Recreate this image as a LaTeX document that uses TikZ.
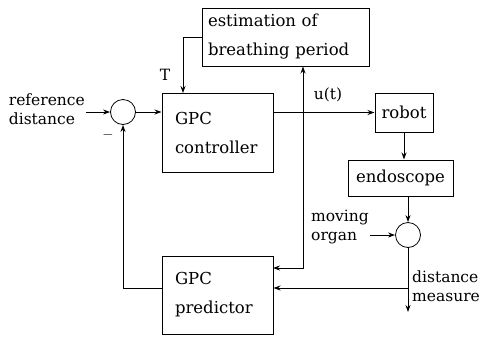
\documentclass[tikz,border=0pt]{standalone}
\usepackage{fontspec}
\setmainfont{DejaVu Serif}
\usetikzlibrary{arrows.meta}
\begin{document}
\begin{tikzpicture}[x=1pt,y=-1pt,
    blk/.style={draw, line width=1pt, inner sep=0pt, align=left, font=\fontsize{16.5}{29}\selectfont},
    sumc/.style={draw, circle, line width=0.8pt, minimum size=25pt, inner sep=0pt},
    lbl/.style={inner sep=1pt, align=left, font=\fontsize{15.5}{19}\selectfont},
    sig/.style={-{Stealth[length=7pt,width=5pt]}, line width=1pt}]
    \useasboundingbox (0,0) rectangle (486,338);

    % blocks
    \node[blk, minimum width=167pt, minimum height=58pt, text width=155pt] (est) at (285.5,37) {estimation of\\breathing period};
    \node[blk, minimum width=111pt, minimum height=79pt, text width=85pt] (ctrl) at (217.5,132.5) {GPC\\controller};
    \node[blk, minimum width=111pt, minimum height=78pt, text width=85pt] (pred) at (217.5,295) {GPC\\predictor};
    \node[blk, minimum width=58pt, minimum height=39pt, align=center] (robot) at (404,112.5) {robot};
    \node[blk, minimum width=105pt, minimum height=36pt, align=center] (endo) at (400.5,178) {endoscope};
    \node[sumc] (sum1) at (123,112) {};
    \node[sumc] (sum2) at (408,235) {};

    % labels
    \node[lbl, anchor=east] (ref) at (86,109) {reference\\distance};
    \node[lbl, anchor=west] (org) at (310,227) {moving\\organ};
    \node[lbl, anchor=west] (meas) at (411,286) {distance\\measure};
    \node[lbl] (tlab) at (165,75) {T};
    \node[lbl] (ulab) at (328,95) {u(t)};
    \node[lbl] (minus) at (108,135) {$-$};

    \coordinate (tin) at (183,93);
    \coordinate (br) at (303,113);
    \coordinate (pin) at (273,268);
    \coordinate (mbr) at (408,288);
    \coordinate (mout) at (408,312);

    % signals
    \draw[sig] (ref.east |- sum1.west) -- (sum1.west);
    \draw[sig] (sum1.east) -- (sum1.east -| ctrl.west);
    \draw[sig] (est.west) -| (tin);
    \draw[sig] (robot.west -| ctrl.east) -- (robot.west);
    \draw[sig] (br) -- (br |- est.south);
    \draw[sig] (br) |- (pin);
    \draw[sig] (robot.south) -- (robot.south |- endo.north);
    \draw[sig] (sum2.north |- endo.south) -- (sum2.north);
    \draw[sig] (org.east |- sum2.west) -- (sum2.west);
    \draw[sig] (sum2.south) -- (mout);
    \draw[sig] (mbr) -- (mbr -| pred.east);
    \draw[sig] ([yshift=7pt]pred.west) -| (sum1.south);
\end{tikzpicture}
\end{document}
